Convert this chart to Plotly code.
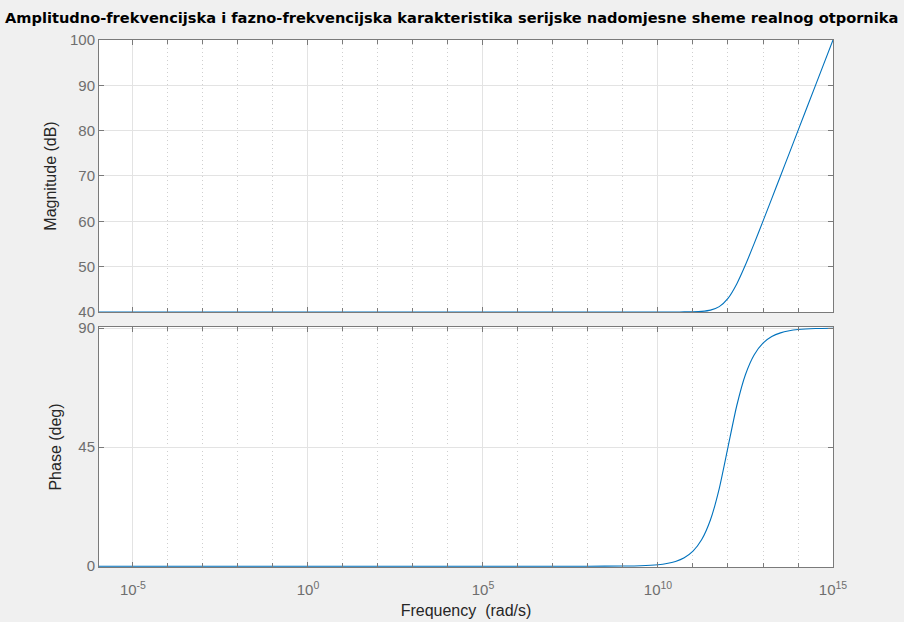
import plotly.graph_objects as go

# Frequency samples (rad/s) and values
freq = [1e-6, 1e-4, 1e-2, 1e0, 1e2, 1e4, 1e6, 1e8, 1e9,
        10**9.5, 1e10, 10**10.25, 10**10.5, 10**10.75, 1e11, 10**11.25, 10**11.5, 10**11.75,
        1e12, 10**12.25, 10**12.5, 10**12.75, 1e13, 10**13.25, 10**13.5, 10**13.75,
        1e14, 10**14.5, 1e15]
magnitude_db = [40.0, 40.0, 40.0, 40.0, 40.0, 40.0, 40.0, 40.0, 40.0,
                40.0, 40.0, 40.001, 40.004, 40.014, 40.043, 40.135, 40.41, 41.19,
                43.01, 46.19, 50.41, 55.13, 60.04, 65.01, 70.0, 75.0,
                80.0, 90.0, 100.0]
phase_deg = [0.0, 0.0, 0.0, 0.0, 0.0, 0.0, 0.0, 0.006, 0.057,
             0.18, 0.57, 1.02, 1.81, 3.22, 5.71, 10.08, 17.55, 29.36,
             45.0, 60.64, 72.45, 79.92, 84.29, 86.78, 88.19, 88.98,
             89.43, 89.82, 89.94]

title_text = "Amplitudno-frekvencijska i fazno-frekvencijska karakteristika serijske nadomjesne sheme realnog otpornika"
mag_ticks = [40, 50, 60, 70, 80, 90, 100]
phase_ticks = [0, 45, 90]
x_major = [1e-5, 1e0, 1e5, 1e10, 1e15]
x_major_text = ["10<sup>-5</sup>", "10<sup>0</sup>", "10<sup>5</sup>", "10<sup>10</sup>", "10<sup>15</sup>"]
x_minor = [10.0**k for k in range(-5, 16)]

line_color = "#0072BD"
axis_color = "#7a7a7a"
grid_color = "#e3e3e3"
minor_grid_color = "#cfcfcf"
tick_font = dict(family="Liberation Sans, Arial, sans-serif", size=15, color="#6e6e6e")
label_font = dict(family="Liberation Sans, Arial, sans-serif", size=16, color="#262626")

fig = go.Figure()
fig.add_trace(go.Scatter(x=freq, y=magnitude_db, mode="lines",
                         line=dict(color=line_color, width=1.1, shape="spline", smoothing=0.6),
                         xaxis="x", yaxis="y", showlegend=False))
fig.add_trace(go.Scatter(x=freq, y=phase_deg, mode="lines",
                         line=dict(color=line_color, width=1.1, shape="spline", smoothing=0.6),
                         xaxis="x2", yaxis="y2", showlegend=False))

xrange = [-5.97, 15]
common_x = dict(type="log", range=xrange, showline=True, linecolor=axis_color, linewidth=1,
                mirror="allticks", ticks="inside", ticklen=5, tickcolor=axis_color,
                tickvals=x_major, showgrid=True, gridcolor=grid_color, gridwidth=1,
                minor=dict(tickvals=x_minor, ticks="inside", ticklen=4, tickcolor=axis_color,
                           showgrid=True, gridcolor=minor_grid_color, griddash="1px,3px", gridwidth=1),
                zeroline=False, tickfont=tick_font, automargin=False)

common_y = dict(showline=True, linecolor=axis_color, mirror="allticks", ticks="inside",
                ticklen=5, tickcolor=axis_color, showgrid=True, gridcolor=grid_color,
                zeroline=False, tickfont=tick_font, automargin=False)

fig.update_layout(
    width=904, height=622,
    paper_bgcolor="#f0f0f0", plot_bgcolor="white",
    margin=dict(l=99, r=71, t=40, b=55),
    title=dict(text="<b>" + title_text + "</b>", x=5 / 904, xanchor="left", xref="container",
               y=1 - 18 / 622, yanchor="middle", yref="container", automargin=False,
               font=dict(family="DejaVu Sans, sans-serif", size=14.6, color="black")),
    xaxis=dict(common_x, domain=[0, 1], anchor="y", showticklabels=False, matches="x2"),
    yaxis=dict(common_y, domain=[0.4839, 1], range=[40, 100], tickvals=mag_ticks,
               title=dict(text="Magnitude (dB)", font=label_font, standoff=9)),
    xaxis2=dict(common_x, domain=[0, 1], anchor="y2", ticktext=x_major_text,
                ticklabelstandoff=9,
                title=dict(text="Frequency\u00a0\u00a0(rad/s)", font=label_font, standoff=7)),
    yaxis2=dict(common_y, domain=[0, 0.4554], range=[-0.3, 90.4], tickvals=phase_ticks,
                title=dict(text="Phase (deg)", font=label_font, standoff=12)),
)

fig.write_html("out.html", config={"displayModeBar": False},
               post_script="document.body.style.margin='0px';")
